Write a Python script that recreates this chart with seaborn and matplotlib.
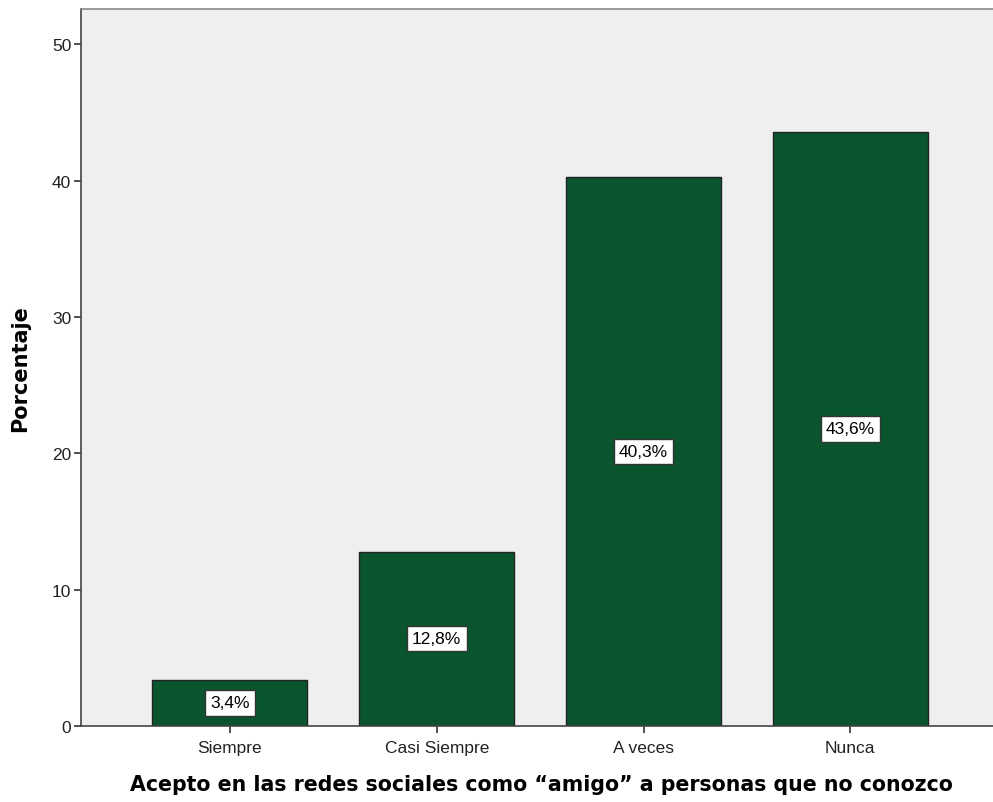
import pandas as pd
import seaborn as sns
import matplotlib.pyplot as plt

sns.set_theme(style="white")
plt.rcParams['font.family'] = ['Liberation Sans', 'DejaVu Sans']

# Data
categories = ['Siempre', 'Casi Siempre', 'A veces', 'Nunca']
percentages = [3.4, 12.8, 40.3, 43.6]
labels = ['3,4%', '12,8%', '40,3%', '43,6%']

df = pd.DataFrame({'cat': categories, 'pct': percentages})

fig = plt.figure(figsize=(9.93, 8.03), dpi=100)
ax = fig.add_axes([81 / 993, 76 / 803, 1 - 81 / 993, 717 / 803])
ax.set_facecolor('#efefef')

sns.barplot(data=df, x='cat', y='pct', color='#0b552e', saturation=1,
            width=0.75, edgecolor='#222222', linewidth=1, ax=ax)

# Labels in the middle of each bar
for i, (p, lab) in enumerate(zip(percentages, labels)):
    ax.text(i, p / 2, lab, ha='center', va='center', fontsize=12.5,
            color='black',
            bbox=dict(boxstyle='square,pad=0.3', fc='white', ec='#333333', lw=1))

ax.set_xlim(-0.72, 3.69)
ax.set_ylim(0, 52.6)
ax.set_yticks([0, 10, 20, 30, 40, 50])

for s in ['left', 'top', 'bottom']:
    ax.spines[s].set_visible(True)
    ax.spines[s].set_color('#444444')
    ax.spines[s].set_linewidth(1.2)
ax.spines['top'].set_color('#888888')
ax.spines['right'].set_visible(False)

ax.tick_params(axis='both', which='both', direction='out', length=5, width=1.2,
               color='#333333', labelsize=12.5, labelcolor='#222222',
               left=True, bottom=True)
ax.tick_params(axis='x', pad=5)
ax.tick_params(axis='y', pad=2)

ax.set_xlabel('Acepto en las redes sociales como “amigo” a personas que no conozco',
              fontsize=14.8, fontweight='bold', family=['DejaVu Sans'],
              color='black', labelpad=14, x=0.505)
ax.set_ylabel('Porcentaje', fontsize=15, fontweight='bold',
              family=['DejaVu Sans'], color='black', labelpad=16)

fig.savefig('out.png', dpi=100)
